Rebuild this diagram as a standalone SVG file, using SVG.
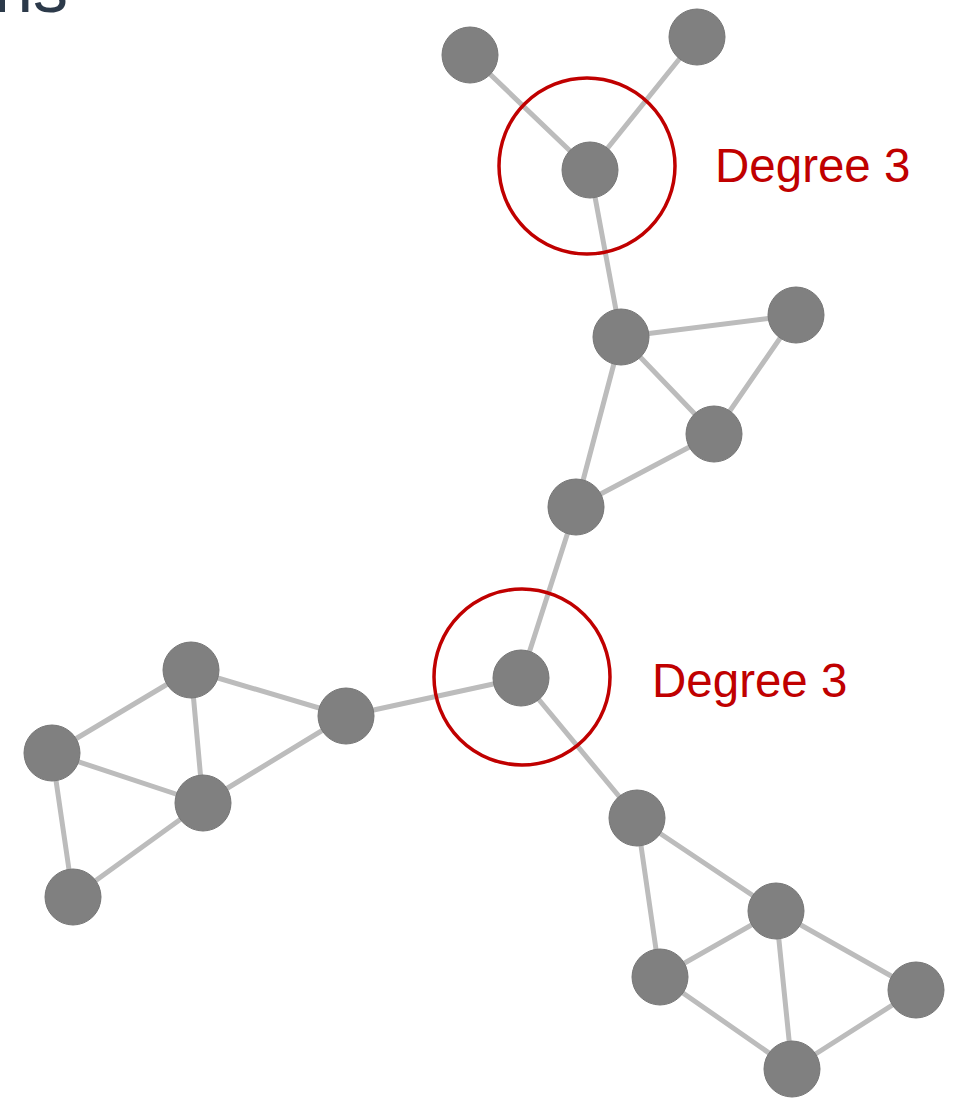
<svg xmlns="http://www.w3.org/2000/svg" width="954" height="1098" viewBox="0 0 954 1098">
<style>
.e{stroke:#bcbcbc;stroke-width:5;stroke-linecap:round}
.n{fill:#808080;stroke:#767676;stroke-width:1}
.hl{fill:none;stroke:#c00000;stroke-width:3.5}
.lbl{fill:#c00000;font-family:"Liberation Sans","DejaVu Sans",sans-serif;font-size:47.5px}
.title{fill:#2c3a4a;font-family:"Liberation Sans","DejaVu Sans",sans-serif;font-size:70px}
</style>
<rect width="954" height="1098" fill="#ffffff"/>
<text class="title" x="-6" y="12">ns</text>
<g id="edges">
<line class="e" x1="470" y1="55" x2="590" y2="170"/>
<line class="e" x1="697" y1="37" x2="590" y2="170"/>
<line class="e" x1="590" y1="170" x2="621" y2="337"/>
<line class="e" x1="621" y1="337" x2="796" y2="315"/>
<line class="e" x1="621" y1="337" x2="714" y2="434"/>
<line class="e" x1="796" y1="315" x2="714" y2="434"/>
<line class="e" x1="621" y1="337" x2="576" y2="507"/>
<line class="e" x1="714" y1="434" x2="576" y2="507"/>
<line class="e" x1="576" y1="507" x2="521" y2="678"/>
<line class="e" x1="521" y1="678" x2="346" y2="716"/>
<line class="e" x1="521" y1="678" x2="637" y2="818"/>
<line class="e" x1="346" y1="716" x2="191" y2="670"/>
<line class="e" x1="346" y1="716" x2="203" y2="803"/>
<line class="e" x1="191" y1="670" x2="52" y2="753"/>
<line class="e" x1="191" y1="670" x2="203" y2="803"/>
<line class="e" x1="52" y1="753" x2="203" y2="803"/>
<line class="e" x1="52" y1="753" x2="73" y2="897"/>
<line class="e" x1="203" y1="803" x2="73" y2="897"/>
<line class="e" x1="637" y1="818" x2="776" y2="911"/>
<line class="e" x1="637" y1="818" x2="660" y2="977"/>
<line class="e" x1="776" y1="911" x2="660" y2="977"/>
<line class="e" x1="776" y1="911" x2="916" y2="990"/>
<line class="e" x1="776" y1="911" x2="792" y2="1069"/>
<line class="e" x1="660" y1="977" x2="792" y2="1069"/>
<line class="e" x1="916" y1="990" x2="792" y2="1069"/>
</g>
<g id="n1"><circle class="n" cx="470" cy="55" r="28"/></g>
<g id="n2"><circle class="n" cx="697" cy="37" r="28"/></g>
<g id="n3"><circle class="n" cx="590" cy="170" r="28"/></g>
<g id="n4"><circle class="n" cx="621" cy="337" r="28"/></g>
<g id="n5"><circle class="n" cx="796" cy="315" r="28"/></g>
<g id="n6"><circle class="n" cx="714" cy="434" r="28"/></g>
<g id="n7"><circle class="n" cx="576" cy="507" r="28"/></g>
<g id="n8"><circle class="n" cx="521" cy="678" r="28"/></g>
<g id="n9"><circle class="n" cx="346" cy="716" r="28"/></g>
<g id="n10"><circle class="n" cx="191" cy="670" r="28"/></g>
<g id="n11"><circle class="n" cx="52" cy="753" r="28"/></g>
<g id="n12"><circle class="n" cx="203" cy="803" r="28"/></g>
<g id="n13"><circle class="n" cx="73" cy="897" r="28"/></g>
<g id="n14"><circle class="n" cx="637" cy="818" r="28"/></g>
<g id="n15"><circle class="n" cx="776" cy="911" r="28"/></g>
<g id="n16"><circle class="n" cx="660" cy="977" r="28"/></g>
<g id="n17"><circle class="n" cx="916" cy="990" r="28"/></g>
<g id="n18"><circle class="n" cx="792" cy="1069" r="28"/></g>
<g id="highlight1">
<circle class="hl" cx="587" cy="166" r="88"/>
<text class="lbl" x="715" y="182">Degree 3</text>
</g>
<g id="highlight2">
<circle class="hl" cx="522" cy="677" r="88"/>
<text class="lbl" x="652" y="697">Degree 3</text>
</g>
</svg>
